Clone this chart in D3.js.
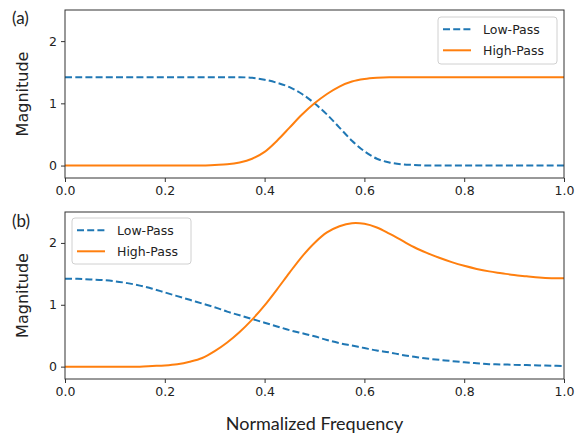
<!DOCTYPE html>
<html>
<head>
<meta charset="utf-8">
<script src="https://cdn.jsdelivr.net/npm/d3@7"></script>
<style>
  body { margin: 0; background: #fff; }
  svg { display: block; }
</style>
</head>
<body>
<svg id="chart"></svg>
<script>
// Values
const xTicks = [0, 0.2, 0.4, 0.6, 0.8, 1.0];
const yTicks = [0, 1, 2];
const seriesNames = ["Low-Pass", "High-Pass"];
const panelTags = ["(a)", "(b)"];

// normalized frequency samples, shared by both panels
const freq = [0, 0.025, 0.05, 0.075, 0.1, 0.125, 0.15, 0.175, 0.2, 0.225, 0.25, 0.275, 0.3, 0.325,
  0.35, 0.375, 0.4, 0.425, 0.45, 0.475, 0.5, 0.525, 0.55, 0.575, 0.6, 0.625, 0.65, 0.675,
  0.7, 0.725, 0.75, 0.775, 0.8, 0.825, 0.85, 0.875, 0.9, 0.925, 0.95, 0.975, 1.0];

// panel (a)
const lowTop = [1.42, 1.42, 1.42, 1.42, 1.42, 1.42, 1.42, 1.42, 1.42, 1.42, 1.42, 1.42, 1.42, 1.42,
  1.42, 1.41, 1.38, 1.33, 1.26, 1.15, 1.00, 0.82, 0.61, 0.40, 0.23, 0.11, 0.05, 0.02,
  0.01, 0, 0, 0, 0, 0, 0, 0, 0, 0, 0, 0, 0];
const highTop = [0, 0, 0, 0, 0, 0, 0, 0, 0, 0, 0, 0, 0.01, 0.02,
  0.05, 0.11, 0.22, 0.40, 0.61, 0.82, 1.00, 1.15, 1.27, 1.35, 1.39, 1.41, 1.42, 1.42,
  1.42, 1.42, 1.42, 1.42, 1.42, 1.42, 1.42, 1.42, 1.42, 1.42, 1.42, 1.42, 1.42];

// panel (b)
const lowBottom = [1.42, 1.42, 1.41, 1.40, 1.38, 1.35, 1.31, 1.26, 1.20, 1.14, 1.08, 1.02, 0.96, 0.89,
  0.83, 0.77, 0.71, 0.65, 0.59, 0.54, 0.49, 0.43, 0.38, 0.34, 0.30, 0.26, 0.23, 0.19,
  0.16, 0.13, 0.11, 0.09, 0.07, 0.055, 0.04, 0.035, 0.03, 0.025, 0.02, 0.015, 0.01];
const highBottom = [0, 0, 0, 0, 0, 0, 0, 0.01, 0.02, 0.04, 0.08, 0.14, 0.25, 0.39,
  0.56, 0.76, 0.99, 1.25, 1.52, 1.78, 2.00, 2.17, 2.27, 2.32, 2.31, 2.25, 2.15, 2.04,
  1.93, 1.84, 1.76, 1.69, 1.63, 1.58, 1.54, 1.51, 1.48, 1.46, 1.44, 1.43, 1.43];

const W = 581, H = 434;
const colors = ["#1f77b4", "#ff7f0e"];
const tickFont = "DejaVu Sans";

const svg = d3.select("#chart").attr("width", W).attr("height", H);
svg.append("rect").attr("width", W).attr("height", H).attr("fill", "#fff");

const x = d3.scaleLinear().domain([0, 1]).range([65, 564]);

const panels = [
  { top: 10, bottom: 178, low: lowTop, high: highTop,
    legend: { x: 438, y: 17, w: 119, h: 47 }, tagY: 24 },
  { top: 212, bottom: 379, low: lowBottom, high: highBottom,
    legend: { x: 72, y: 218, w: 119, h: 46 }, tagY: 227 }
];

panels.forEach((p, pi) => {
  const y = d3.scaleLinear().domain([-0.2, 2.5]).range([p.bottom, p.top]);
  const g = svg.append("g");

  // x axis
  const xa = g.append("g")
    .attr("transform", `translate(0,${p.bottom})`)
    .call(d3.axisBottom(x).tickValues(xTicks).tickFormat(d3.format(".1f")).tickSize(4).tickPadding(4));
  // y axis
  const ya = g.append("g")
    .attr("transform", `translate(${x.range()[0]},0)`)
    .call(d3.axisLeft(y).tickValues(yTicks).tickFormat(d3.format("d")).tickSize(4).tickPadding(4));

  [xa, ya].forEach(a => {
    a.select(".domain").remove();
    a.selectAll("line").attr("stroke", "#333");
    a.selectAll("text").attr("font-family", tickFont).attr("font-size", 12.5).attr("fill", "#222");
  });

  // lines
  const line = d3.line()
    .x((d, i) => x(freq[i]))
    .y(d => y(d))
    .curve(d3.curveCatmullRom);

  const clipId = "clip" + pi;
  svg.append("clipPath").attr("id", clipId)
    .append("rect").attr("x", x(0)).attr("y", p.top).attr("width", x(1) - x(0)).attr("height", p.bottom - p.top);

  const lines = g.append("g").attr("clip-path", `url(#${clipId})`);
  lines.append("path").datum(p.low)
    .attr("d", line).attr("fill", "none").attr("stroke", colors[0])
    .attr("stroke-width", 2).attr("stroke-dasharray", "7,3.2");
  lines.append("path").datum(p.high)
    .attr("d", line).attr("fill", "none").attr("stroke", colors[1])
    .attr("stroke-width", 2);

  // frame
  g.append("rect")
    .attr("x", x(0)).attr("y", p.top)
    .attr("width", x(1) - x(0)).attr("height", p.bottom - p.top)
    .attr("fill", "none").attr("stroke", "#333").attr("stroke-width", 1);

  // y label
  g.append("text")
    .attr("transform", `translate(28,${(p.top + p.bottom) / 2}) rotate(-90)`)
    .attr("text-anchor", "middle")
    .attr("font-family", tickFont).attr("font-size", 16).attr("fill", "#222")
    .text("Magnitude");

  // panel tag
  g.append("text")
    .attr("x", 12).attr("y", p.tagY)
    .attr("font-family", "Lato").attr("font-size", 17).attr("fill", "#222")
    .text(panelTags[pi]);

  // legend
  const L = p.legend;
  const lg = g.append("g").attr("transform", `translate(${L.x},${L.y})`);
  lg.append("rect").attr("width", L.w).attr("height", L.h).attr("rx", 3)
    .attr("fill", "#fff").attr("fill-opacity", 0.8).attr("stroke", "#d0d0d0");
  seriesNames.forEach((name, i) => {
    const ry = 12.3 + i * 21;
    lg.append("line").attr("x1", 5).attr("x2", 33).attr("y1", ry).attr("y2", ry)
      .attr("stroke", colors[i]).attr("stroke-width", 2)
      .attr("stroke-dasharray", i === 0 ? "7,3.2" : null);
    lg.append("text").attr("x", 45).attr("y", ry + 4.5)
      .attr("font-family", tickFont).attr("font-size", 12.5).attr("fill", "#222")
      .text(name);
  });
});

// shared x label
svg.append("text")
  .attr("x", (x(0) + x(1)) / 2).attr("y", 430)
  .attr("text-anchor", "middle")
  .attr("font-family", "Lato").attr("font-size", 18).attr("fill", "#222")
  .text("Normalized Frequency");
</script>
</body>
</html>
